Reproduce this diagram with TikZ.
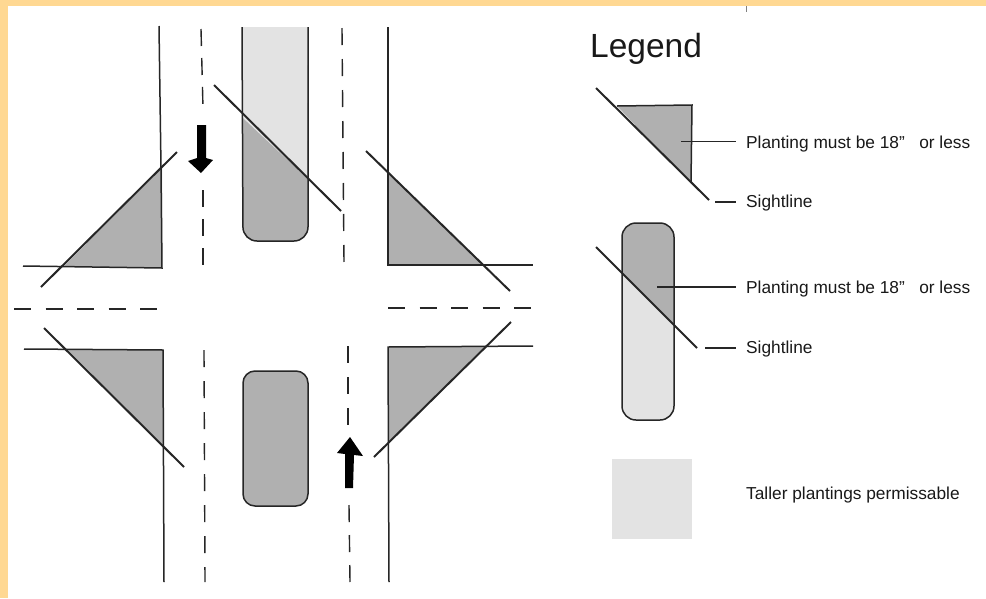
\documentclass[tikz,border=0pt]{standalone}
\usepackage{fontspec}
\setmainfont{Liberation Sans}
\definecolor{bandcol}{HTML}{FFD892}
\definecolor{inkcol}{HTML}{262626}
\definecolor{lowcol}{HTML}{B0B0B0}
\definecolor{tallcol}{HTML}{E3E3E3}
\tikzset{
    curb/.style={draw=inkcol, line width=1.5pt},
    sight/.style={draw=inkcol, line width=2pt},
    lane/.style={draw=inkcol, line width=1.4pt, dash pattern=on 17pt off #1},
    lane/.default=14pt,
    leader/.style={draw=inkcol, line width=1.1pt},
    lbl/.style={anchor=west, inner xsep=10pt, inner ysep=0pt, font=\fontsize{17.3pt}{19pt}\selectfont, text=black!90}
}

\begin{document}
\begin{tikzpicture}[x=1pt, y=-1pt]
        \useasboundingbox (0, 0) rectangle (986, 598);
        \fill[bandcol] (0, 0) rectangle (986, 598);
        \fill[white] (8, 6) rectangle (986, 598);
        \draw[gray, line width=.6pt] (746, 6) -- (746, 12);

        \fill[lowcol] (162, 168) -- (162, 268) -- (64, 266) -- cycle;
        \draw[curb] (159, 26) -- (161, 168) -- (162, 268) -- (23, 266);
        \draw[sight] (41, 287) -- (177, 152);

        \fill[lowcol] (388, 173) -- (388, 265) -- (483, 265) -- cycle;
        \draw[curb] (388, 27) -- (388, 265) -- (533, 265);
        \draw[sight] (366, 151) -- (510, 291);

        \fill[lowcol] (68, 350) -- (163, 350) -- (163, 446) -- cycle;
        \draw[curb] (24, 349) -- (163, 350) -- (164, 582);
        \draw[sight] (44, 328) -- (184, 467);

        \fill[lowcol] (388, 347) -- (484, 347) -- (388, 443) -- cycle;
        \draw[curb] (533, 346) -- (388, 347) -- (389, 582);
        \draw[sight] (374, 457) -- (511, 322);

        \fill[lowcol, rounded corners=14pt] (243, 27) -- (243, 241) -- (308, 241) -- (308, 27) -- cycle;
        \fill[tallcol] (243, 27) -- (243, 118) -- (307, 178) -- (308, 27) -- cycle;
        \draw[curb, rounded corners=14pt] (242, 27) -- (243, 241) -- (308, 241) -- (308, 27);
        \draw[sight] (214, 85) -- (341, 211);

        \draw[curb, fill=lowcol, rounded corners=12pt] (243, 371) rectangle (308, 506);

        \draw[lane=12pt] (201, 29) -- (203, 108);
        \draw[lane=12pt] (203, 190) -- (203, 265);
        \draw[lane] (342, 28) -- (344, 263);
        \draw[lane] (204, 350) -- (205, 582);
        \draw[lane] (348, 346) -- (348, 425);
        \draw[lane=13pt] (349, 505) -- (350, 582);
        \draw[lane=14.5pt] (14, 309) -- (160, 309);
        \draw[lane=14.5pt] (388, 308) -- (532, 308);

        \fill[black] (197, 125) -- (206, 125) -- (206, 158) -- (213, 160) -- (201, 173) -- (188, 161) -- (197, 158) -- cycle;
        \fill[black] (345, 488) -- (353, 488) -- (354, 455) -- (363, 456) -- (350, 437) -- (337, 453) -- (345, 454) -- cycle;

        \node[anchor=base west, inner sep=0pt, font=\fontsize{33.5pt}{36pt}\selectfont, text=black!90] (legend) at (590, 57) {Legend};

        \fill[lowcol] (617, 106) -- (692, 105) -- (691, 183) -- cycle;
        \draw[curb] (617, 106) -- (692, 105) -- (691, 183);
        \draw[sight] (596, 88) -- (709, 200);

        \node[lbl] (plant1) at (736, 144.5) {Planting must be 18”\ \ \ or less};
        \node[lbl] (sightline1) at (736, 203.5) {Sightline};
        \coordinate (inside1) at (681, 141.5);
        \coordinate (end1) at (715, 202);
        \draw[leader] (inside1) -- (inside1 -| plant1.west);
        \draw[leader] (end1) -- (end1 -| sightline1.west);

        \fill[tallcol, rounded corners=14pt] (622, 223) rectangle (674, 420);
        \fill[lowcol] (622, 273) -- (622, 250) [rounded corners=14pt] -- (622, 223) -- (674, 223) -- (674, 250) [sharp corners] -- (674, 325) -- cycle;
        \draw[curb, rounded corners=14pt] (622, 223) rectangle (674, 420);
        \draw[sight] (596, 247) -- (697, 348);

        \node[lbl] (plant2) at (736, 289.5) {Planting must be 18”\ \ \ or less};
        \node[lbl] (sightline2) at (736, 349.5) {Sightline};
        \coordinate (inside2) at (657, 287);
        \coordinate (end2) at (705, 348);
        \draw[leader] (inside2) -- (inside2 -| plant2.west);
        \draw[leader] (end2) -- (end2 -| sightline2.west);

        \node[fill=tallcol, minimum size=80pt, inner sep=0pt] (swatch) at (651.5, 499) {};
        \node[lbl] (taller) at (736, 495.5) {Taller plantings permissable};
\end{tikzpicture}
\end{document}
